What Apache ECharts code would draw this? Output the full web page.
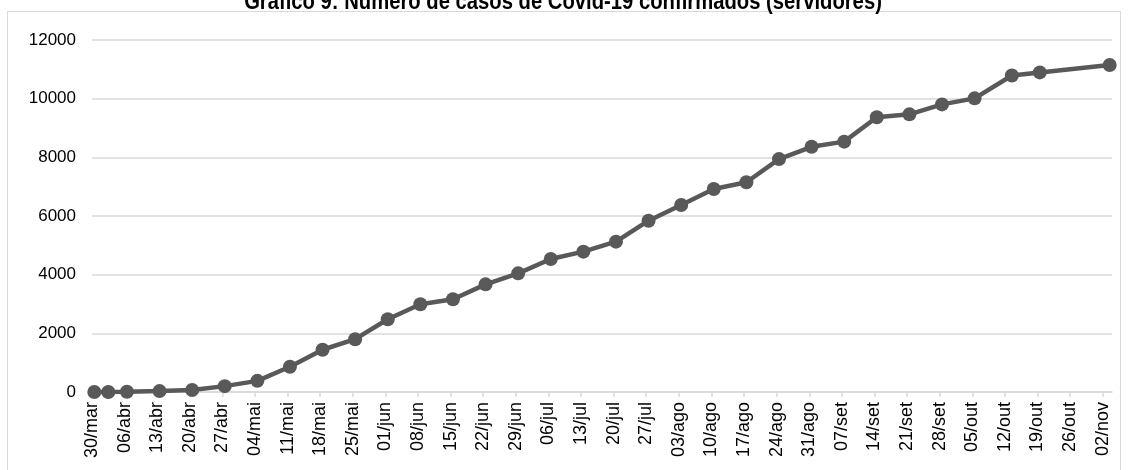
<!DOCTYPE html>
<html>
<head>
<meta charset="utf-8">
<script src="https://cdn.jsdelivr.net/npm/echarts@6/dist/echarts.min.js"></script>
<style>
  html, body { margin: 0; padding: 0; background: #fff; }
  #chart { width: 1128px; height: 470px; }
</style>
</head>
<body>
<div id="chart"></div>
<script>
// Data collection dates (day/month, 2020) and confirmed cases among staff
const reportDates = [
  '30/03', '02/04', '06/04', '13/04', '20/04', '27/04', '04/05', '11/05',
  '18/05', '25/05', '01/06', '08/06', '15/06', '22/06', '29/06', '06/07',
  '13/07', '20/07', '27/07', '03/08', '10/08', '17/08', '24/08', '31/08',
  '07/09', '14/09', '21/09', '28/09', '05/10', '13/10', '19/10', '03/11'
];
const confirmedCases = [
  0, 0, 10, 30, 70, 200, 380, 860,
  1440, 1800, 2480, 2990, 3160, 3670, 4045, 4535,
  4785, 5125, 5840, 6375, 6920, 7150, 7940, 8360,
  8535, 9365, 9465, 9805, 10010, 10790, 10895, 11150
];
// Weekly tick labels along the date axis
const weekLabels = [
  '30/mar', '06/abr', '13/abr', '20/abr', '27/abr', '04/mai', '11/mai', '18/mai',
  '25/mai', '01/jun', '08/jun', '15/jun', '22/jun', '29/jun', '06/jul', '13/jul',
  '20/jul', '27/jul', '03/ago', '10/ago', '17/ago', '24/ago', '31/ago', '07/set',
  '14/set', '21/set', '28/set', '05/out', '12/out', '19/out', '26/out', '02/nov'
];
const yTicks = [0, 2000, 4000, 6000, 8000, 10000, 12000];
const chartTitle = 'Gráfico 9: Número de casos de Covid-19 confirmados (servidores)';

// Day offsets from the first report date
const YEAR = 2020;
const toUTC = s => { const [d, m] = s.split('/').map(Number); return Date.UTC(YEAR, m - 1, d); };
const dayZero = toUTC(reportDates[0]);
const dayOf = s => Math.round((toUTC(s) - dayZero) / 86400000);
const seriesData = reportDates.map((s, i) => [dayOf(s), confirmedCases[i]]);
const lastDay = seriesData[seriesData.length - 1][0];

// Each day is a slot; weekly ticks sit on slot boundaries
const tickValues = weekLabels.map((_, k) => k * 7 - 0.5);

const chart = echarts.init(document.getElementById('chart'), null, { renderer: 'canvas' });
chart.setOption({
  animation: false,
  backgroundColor: '#ffffff',
  graphic: [{
    type: 'rect',
    shape: { x: 7.5, y: 11.5, width: 1113, height: 480 },
    style: { fill: null, stroke: '#d9d9d9', lineWidth: 1 },
    silent: true,
    z: 0
  }, {
    // Condensed bold heading, centred above the plot
    type: 'text',
    x: 563,
    y: 3,
    scaleX: 0.88,
    style: {
      text: chartTitle,
      align: 'center',
      verticalAlign: 'middle',
      font: 'bold 23px "Liberation Sans", Arial, sans-serif',
      fill: '#000'
    },
    silent: true,
    z: 10
  }],
  grid: { left: 92, right: 16, top: 40, bottom: 78, containLabel: false },
  xAxis: {
    type: 'value',
    min: -0.5,
    max: lastDay + 0.5,
    splitLine: { show: false },
    axisLine: { show: true, onZero: true, lineStyle: { color: '#d9d9d9', width: 1.5 } },
    axisTick: {
      show: true,
      length: 5,
      customValues: tickValues,
      lineStyle: { color: '#d9d9d9', width: 1.5 }
    },
    axisLabel: {
      customValues: tickValues,
      rotate: 90,
      margin: 10,
      fontFamily: '"Liberation Sans", Arial, sans-serif',
      fontSize: 18,
      color: '#000',
      formatter: v => weekLabels[Math.round((v + 0.5) / 7)] || ''
    }
  },
  yAxis: {
    type: 'value',
    min: yTicks[0],
    max: yTicks[yTicks.length - 1],
    interval: yTicks[1] - yTicks[0],
    axisLine: { show: false },
    axisTick: { show: false },
    splitLine: { lineStyle: { color: '#d9d9d9', width: 1.5 } },
    axisLabel: {
      margin: 16,
      fontFamily: '"Liberation Sans", Arial, sans-serif',
      fontSize: 17,
      color: '#000',
      formatter: v => String(v)
    }
  },
  series: [{
    type: 'line',
    data: seriesData,
    symbol: 'circle',
    symbolSize: 14,
    lineStyle: { color: '#595959', width: 4.5 },
    itemStyle: { color: '#595959' },
    emphasis: { disabled: true }
  }]
});
</script>
</body>
</html>
